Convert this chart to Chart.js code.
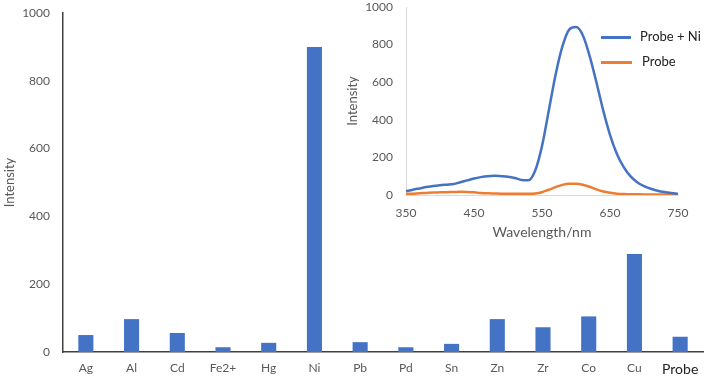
<!DOCTYPE html>
<html>
<head>
<meta charset="utf-8">
<script src="https://cdn.jsdelivr.net/npm/chart.js@4.4.1/dist/chart.umd.min.js"></script>
<style>
  body { margin: 0; background: #fff; }
  #wrap { position: relative; width: 708px; height: 378px; }
  #main { position: absolute; left: 0; top: 0; }
  #inset { position: absolute; left: 340px; top: 0; }
  .leg { position: absolute; font: 13px Lato, sans-serif; color: #222; }
  .leg span { position: absolute; height: 3px; top: 8px; }
</style>
</head>
<body>
<div id="wrap">
  <canvas id="main" width="708" height="378"></canvas>
  <canvas id="inset" width="368" height="245"></canvas>
  <div class="leg" style="left:601px; top:28px;"><span style="left:0; width:30px; background:#4472C4;"></span><b style="font-weight:normal; margin-left:39px;">Probe + Ni</b></div>
  <div class="leg" style="left:601px; top:53px;"><span style="left:0; width:31px; background:#ED7D31;"></span><b style="font-weight:normal; margin-left:41px;">Probe</b></div>
</div>
<script>
// === Data ===
const metals = ['Ag', 'Al', 'Cd', 'Fe2+', 'Hg', 'Ni', 'Pb', 'Pd', 'Sn', 'Zn', 'Zr', 'Co', 'Cu', 'Probe'];
const intensity = [50, 97, 56, 14, 27, 900, 29, 14, 24, 97, 73, 105, 289, 45];
const yTicks = [0, 200, 400, 600, 800, 1000];

const wavelength = [350, 360, 370, 380, 390, 400, 410, 420, 430, 440, 450, 460, 470, 480, 490, 500,
  510, 520, 530, 540, 550, 560, 570, 580, 590, 600, 610, 620, 630, 640, 650, 660, 670, 680, 690, 700,
  710, 720, 730, 740, 750];
const probeNi = [20, 28, 35, 42, 48, 52, 55, 58, 68, 78, 88, 95, 100, 102, 100, 97,
  90, 80, 78, 130, 260, 450, 640, 790, 880, 893, 850, 740, 600, 450, 320, 220, 150, 100, 68, 47,
  33, 23, 16, 11, 7];
const probeOnly = [5, 7, 9, 11, 13, 14, 15, 16, 17, 16, 14, 11, 9, 8, 7, 7,
  6, 6, 6, 8, 15, 28, 42, 54, 60, 60, 55, 44, 30, 19, 12, 7, 5, 4, 4, 3,
  3, 3, 3, 3, 3];
const waveTicks = [350, 450, 550, 650, 750];

const fontFamily = 'Lato, sans-serif';
const gray = '#595959';
const plain = (v) => String(v);

// y scale: fixed width, and drop the tick-padding Chart.js adds above the plot
const fixY = (w) => (s) => { s.width = w; s.paddingTop = 0; s.paddingBottom = 0; };

// === Main bar chart ===
new Chart(document.getElementById('main'), {
  type: 'bar',
  data: {
    labels: metals,
    datasets: [{
      data: intensity,
      backgroundColor: '#4472C4',
      categoryPercentage: 1,
      barPercentage: 0.33
    }]
  },
  options: {
    responsive: false,
    animation: false,
    layout: { padding: { top: 13, right: 5, left: 0, bottom: 0 } },
    plugins: { legend: { display: false }, tooltip: { enabled: false } },
    scales: {
      x: {
        grid: { display: false, drawTicks: false },
        border: { color: '#404040', width: 1.5 },
        ticks: {
          padding: 9,
          color: (ctx) => ctx.index === metals.length - 1 ? '#222' : gray,
          font: (ctx) => ({ family: fontFamily, size: ctx.index === metals.length - 1 ? 14 : 12 })
        },
        afterFit: (s) => { s.height = 26; }
      },
      y: {
        min: 0,
        max: 1000,
        grid: { display: false, drawTicks: false },
        border: { color: '#404040', width: 1.5 },
        afterBuildTicks: (s) => { s.ticks = yTicks.map(v => ({ value: v })); },
        ticks: { padding: 13, color: gray, font: { family: fontFamily, size: 12 }, callback: plain },
        title: { display: true, text: 'Intensity', color: gray, padding: { top: 2, bottom: 0 }, font: { family: fontFamily, size: 13 } },
        afterFit: fixY(63)
      }
    }
  }
});

// === Inset spectrum ===
new Chart(document.getElementById('inset'), {
  type: 'line',
  data: {
    datasets: [
      { label: 'Probe + Ni', data: wavelength.map((w, i) => ({ x: w, y: probeNi[i] })), borderColor: '#4472C4', borderWidth: 2.5 },
      { label: 'Probe', data: wavelength.map((w, i) => ({ x: w, y: probeOnly[i] })), borderColor: '#ED7D31', borderWidth: 2.5 }
    ]
  },
  options: {
    responsive: false,
    animation: false,
    elements: { point: { radius: 0 }, line: { cubicInterpolationMode: 'monotone', fill: false } },
    layout: { padding: { top: 7, right: 30, left: 0, bottom: 0 } },
    plugins: { legend: { display: false }, tooltip: { enabled: false } },
    scales: {
      x: {
        type: 'linear',
        min: 350,
        max: 750,
        grid: { display: false, drawTicks: false },
        border: { color: '#d9d9d9', width: 1 },
        afterBuildTicks: (s) => { s.ticks = waveTicks.map(v => ({ value: v })); },
        ticks: { padding: 11, color: gray, font: { family: fontFamily, size: 12 }, callback: plain },
        title: { display: true, text: 'Wavelength/nm', color: gray, padding: { top: 0, bottom: 4 }, font: { family: fontFamily, size: 14 } },
        afterFit: (s) => { s.height = 50; }
      },
      y: {
        min: 0,
        max: 1000,
        grid: { display: false, drawTicks: false },
        border: { color: '#d9d9d9', width: 1 },
        afterBuildTicks: (s) => { s.ticks = yTicks.map(v => ({ value: v })); },
        ticks: { padding: 13, color: gray, font: { family: fontFamily, size: 12 }, callback: plain },
        title: { display: true, text: 'Intensity', color: gray, padding: { top: 5, bottom: 0 }, font: { family: fontFamily, size: 13 } },
        afterFit: fixY(66)
      }
    }
  }
});
</script>
</body>
</html>
